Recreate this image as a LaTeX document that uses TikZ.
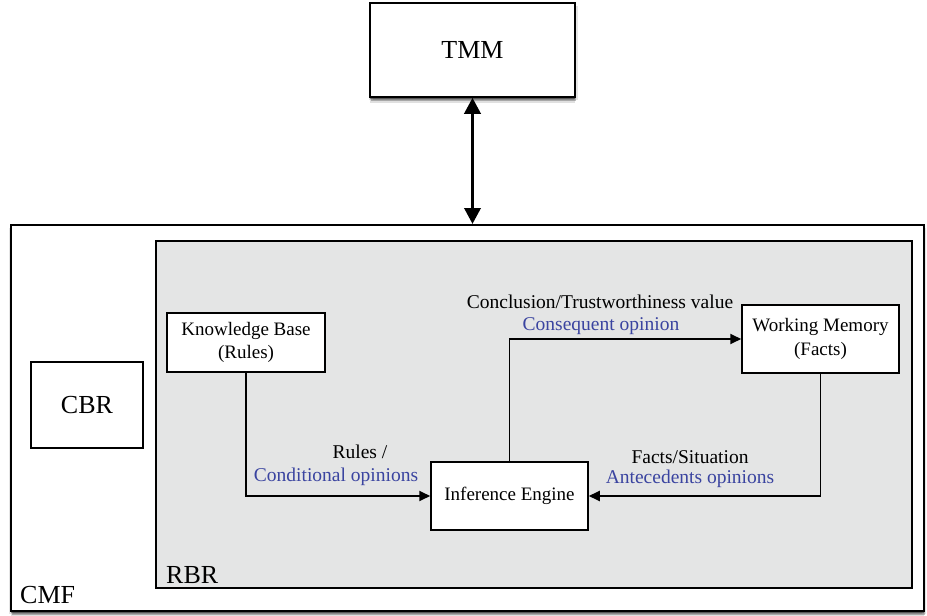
\documentclass[tikz,border=0pt]{standalone}
\usepackage{fontspec}
\setmainfont{Liberation Serif}
\usetikzlibrary{arrows.meta,shadows}
\definecolor{opinion}{RGB}{58,68,160}
\definecolor{rbrgray}{RGB}{228,229,229}
\tikzset{
  softshadow/.style={
    drop shadow={shadow xshift=0pt,shadow yshift=-1.5pt,opacity=.35,fill=black},
    drop shadow={shadow xshift=1pt,shadow yshift=-3.5pt,opacity=.25,fill=black},
    drop shadow={shadow xshift=0pt,shadow yshift=-5.5pt,opacity=.12,fill=black},
    drop shadow={shadow xshift=-1.5pt,shadow yshift=-3pt,opacity=.10,fill=black},
    drop shadow={shadow xshift=2.5pt,shadow yshift=-3pt,opacity=.10,fill=black}},
  block/.style={draw=black,line width=1.5pt,fill=white,inner sep=0pt,
    align=center,font=\fontsize{19}{24}\selectfont},
  bigblock/.style={block,font=\fontsize{26}{30}\selectfont},
  flow/.style={line width=1.8pt,-{Triangle[length=11pt,width=10pt]}},
  lbl/.style={inner sep=0pt,align=center,font=\fontsize{19.5}{24}\selectfont},
  tag/.style={inner sep=0pt,anchor=base west,font=\fontsize{26}{30}\selectfont}
}
\begin{document}
\begin{tikzpicture}[x=1pt,y=-1pt]
\useasboundingbox (0,0) rectangle (927,616);
% outer framework
\node[block,line width=2pt,softshadow,minimum width=913pt,minimum height=386pt] (cmf) at (467,418) {};
\node[tag] (cmftag) at (20,603) {CMF};
% rule-based reasoning area
\node[draw=black,line width=1.5pt,fill=rbrgray,inner sep=0pt,minimum width=756pt,minimum height=347pt] (rbr) at (534,414.5) {};
\node[tag] (rbrtag) at (166,583) {RBR};
% top module
\node[bigblock,softshadow,minimum width=205pt,minimum height=94pt] (tmm) at (472.5,50) {TMM};
\node[bigblock,minimum width=112pt,minimum height=86pt] (cbr) at (87,405) {CBR};
% reasoning components
\node[block,minimum width=158pt,minimum height=59pt] (kb) at (246,342.5) {\raisebox{-3pt}{\shortstack{Knowledge Base\\[3pt](Rules)}}};
\node[block,minimum width=157pt,minimum height=68pt] (wm) at (820.5,339) {\raisebox{-3pt}{\shortstack{Working Memory\\[3pt](Facts)}}};
\node[block,minimum width=157pt,minimum height=68pt] (ie) at (509.5,496) {Inference Engine};
% connectors
\draw[line width=3.5pt,{Triangle[length=16pt,width=16pt]}-{Triangle[length=16pt,width=16pt]}] (tmm.south) -- (cmf.north -| tmm.south);
\draw[flow] (kb.south) |- (ie.west);
\draw[flow] (ie.north) |- (wm.west);
\draw[flow] (wm.south) |- (ie.east);
% connector labels
\node[lbl] (l1) at (360,452) {Rules /};
\node[lbl,text=opinion] (l2) at (336,477) {Conditional opinions};
\node[lbl] (l3) at (600,302) {Conclusion/Trustworthiness value};
\node[lbl,text=opinion] (l4) at (601,326) {Consequent opinion};
\node[lbl] (l5) at (690,457) {Facts/Situation};
\node[lbl,text=opinion] (l6) at (690,479) {Antecedents opinions};
\end{tikzpicture}
\end{document}
